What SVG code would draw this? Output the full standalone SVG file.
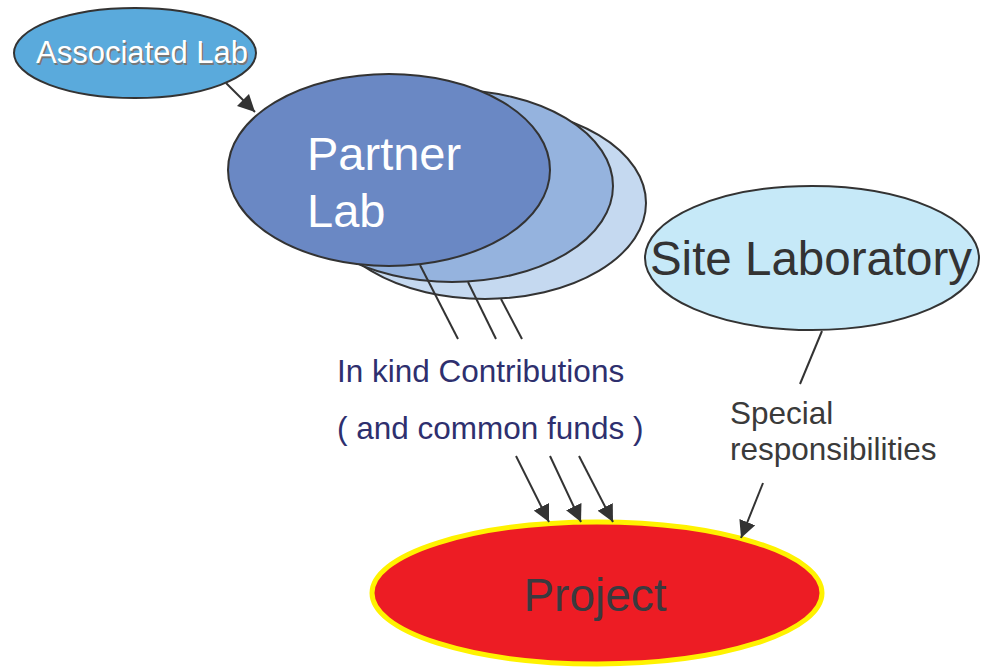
<svg xmlns="http://www.w3.org/2000/svg" width="981" height="668" viewBox="0 0 981 668">
  <style>
    .node { stroke: #333333; stroke-width: 2; }
    .wire { stroke: #333333; stroke-width: 2; fill: none; }
    .label { font-family: "Liberation Sans", Arial, sans-serif; }
  </style>
  <defs>
    <marker id="arrowhead" viewBox="0 0 10 10" refX="10" refY="5" markerWidth="8.5" markerHeight="8.5" markerUnits="strokeWidth" orient="auto">
      <path d="M0,0 L10,5 L0,10 Z" fill="#333333"/>
    </marker>
  </defs>
  <rect width="981" height="668" fill="#ffffff"/>

  <!-- Partner lab stack (back to front) -->
  <g id="partner-back">
    <ellipse class="node" cx="485" cy="203" rx="161" ry="96" fill="#c5d9f0"/>
  </g>
  <g id="partner-middle">
    <ellipse class="node" cx="452" cy="186" rx="161" ry="96" fill="#95b3de"/>
  </g>
  <g id="partner-lab">
    <ellipse class="node" cx="389" cy="170" rx="161" ry="96" fill="#6a88c4"/>
    <text class="label" x="307" y="170" font-size="47" fill="#ffffff">Partner</text>
    <text class="label" x="307" y="227" font-size="47" fill="#ffffff">Lab</text>
  </g>

  <g id="associated-lab">
    <ellipse class="node" cx="135" cy="53" rx="121" ry="45" fill="#5aaadc"/>
    <text class="label" x="143.5" y="64.5" font-size="31" fill="#777777" text-anchor="middle">Associated Lab</text>
    <text class="label" x="142" y="63" font-size="31" fill="#ffffff" text-anchor="middle">Associated Lab</text>
  </g>

  <g id="site-laboratory">
    <ellipse class="node" cx="812" cy="258" rx="167" ry="72" fill="#c6e9f8"/>
    <text class="label" x="811" y="275" font-size="47.5" fill="#333333" text-anchor="middle">Site Laboratory</text>
  </g>

  <g id="project">
    <ellipse cx="597" cy="593" rx="225" ry="71" fill="#ed1c24" stroke="#fff200" stroke-width="5"/>
    <text class="label" x="595" y="611" font-size="46" fill="#3a3a3f" text-anchor="middle">Project</text>
  </g>

  <!-- Connectors -->
  <g id="connectors">
    <line class="wire" x1="226" y1="83" x2="255" y2="112" marker-end="url(#arrowhead)"/>

    <line class="wire" x1="420" y1="265" x2="458" y2="339"/>
    <line class="wire" x1="468" y1="282" x2="496" y2="339"/>
    <line class="wire" x1="501" y1="299" x2="522" y2="339"/>

    <line class="wire" x1="516" y1="456" x2="549" y2="522" marker-end="url(#arrowhead)"/>
    <line class="wire" x1="550" y1="456" x2="581" y2="522" marker-end="url(#arrowhead)"/>
    <line class="wire" x1="579" y1="456" x2="613" y2="522" marker-end="url(#arrowhead)"/>

    <line class="wire" x1="822" y1="331" x2="800" y2="384"/>
    <line class="wire" x1="763" y1="483" x2="741" y2="538" marker-end="url(#arrowhead)"/>
  </g>

  <g id="labels">
    <text class="label" x="337" y="382" font-size="31.5" fill="#2e2f6e">In kind Contributions</text>
    <text class="label" x="337" y="439" font-size="31.5" fill="#2e2f6e">( and common funds )</text>
    <text class="label" x="730" y="424" font-size="31.5" fill="#3a3a3a">Special</text>
    <text class="label" x="730" y="460" font-size="31.5" fill="#3a3a3a">responsibilities</text>
  </g>
</svg>
